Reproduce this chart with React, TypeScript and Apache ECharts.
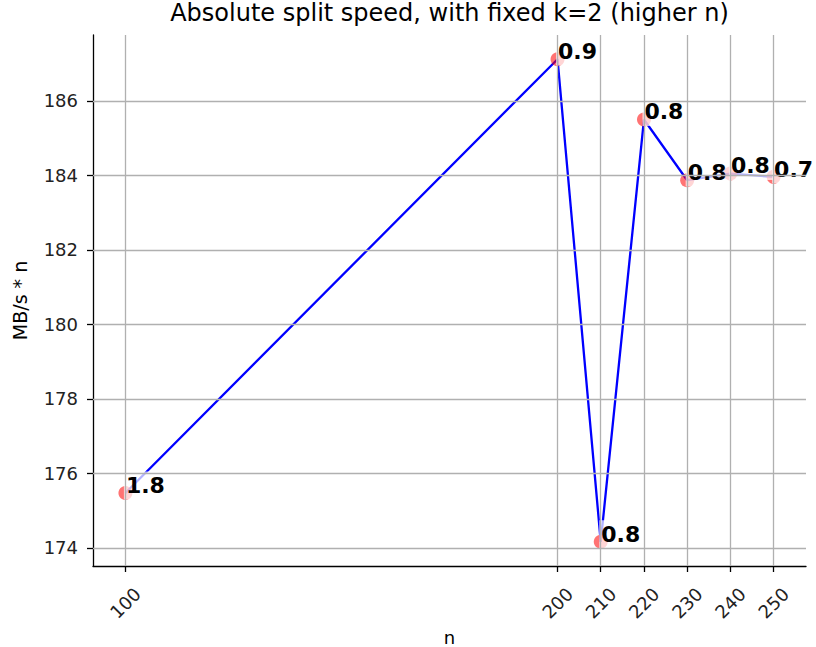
import React, { useEffect, useRef } from "react";
import * as echarts from "echarts";

const nValues = [100, 200, 210, 220, 230, 240, 250];
const speedValues = [175.47, 187.12, 174.16, 185.5, 183.87, 184.05, 183.96];
const pointLabels = ["1.8", "0.9", "0.8", "0.8", "0.8", "0.8", "0.7"];
const yTickValues = [174, 176, 178, 180, 182, 184, 186];

const FONT = "DejaVu Sans";

export default function App() {
  const ref = useRef<HTMLDivElement>(null);
  useEffect(() => {
    if (!ref.current) return;
    const chart = echarts.init(ref.current, null, { renderer: "svg" });
    const gridLeft = 93;
    const gridRight = 10;
    const axisCenter = gridLeft + (816 - gridLeft - gridRight) / 2;
    chart.setOption({
      animation: false,
      backgroundColor: "#ffffff",
      textStyle: { fontFamily: FONT },
      graphic: [
        {
          type: "text",
          x: axisCenter,
          y: 1,
          style: {
            text: "Absolute split speed, with fixed k=2 (higher n)",
            fontFamily: FONT,
            fontSize: 24,
            fill: "#000",
            textAlign: "center",
            textVerticalAlign: "top",
          },
        },
      ],
      grid: {
        left: gridLeft,
        right: gridRight,
        top: 35,
        bottom: 81,
        containLabel: false,
        outerBoundsMode: "none",
      },
      xAxis: {
        type: "value",
        min: 92.5,
        max: 257.5,
        name: "n",
        nameLocation: "middle",
        nameGap: 61,
        nameTextStyle: { fontFamily: FONT, fontSize: 18, color: "#000", lineHeight: 14 },
        axisLine: { show: true, onZero: false, lineStyle: { color: "#000", width: 1.3 } },
        axisTick: { show: true, customValues: nValues, length: 6, lineStyle: { color: "#000", width: 1.3 } },
        axisLabel: {
          customValues: nValues,
          rotate: 45,
          align: "center",
          verticalAlign: "middle",
          margin: 37,
          fontFamily: FONT,
          fontSize: 18,
          color: "#222",
        },
        splitLine: { show: false },
      },
      yAxis: {
        type: "value",
        min: 173.51,
        max: 187.77,
        name: "MB/s * n",
        nameLocation: "middle",
        nameGap: 64,
        nameTextStyle: { fontFamily: FONT, fontSize: 19, color: "#000" },
        axisLine: { show: true, onZero: false, lineStyle: { color: "#000", width: 1.3 } },
        axisTick: { show: true, customValues: yTickValues, length: 6, lineStyle: { color: "#000", width: 1.3 } },
        axisLabel: {
          customValues: yTickValues,
          margin: 15,
          fontFamily: FONT,
          fontSize: 18,
          color: "#222",
        },
        splitLine: { show: false },
      },
      series: [
        {
          type: "line",
          data: [],
          z: 1,
          silent: true,
          markLine: {
            silent: true,
            symbol: "none",
            label: { show: false },
            lineStyle: { color: "#b0b0b0", width: 1.3, type: "solid" },
            data: [
              ...nValues.map((v) => ({ xAxis: v })),
              ...yTickValues.map((v) => ({ yAxis: v })),
            ],
          },
        },
        {
          type: "line",
          z: 2,
          data: nValues.map((n, i) => [n, speedValues[i]]),
          showSymbol: false,
          symbol: "none",
          lineStyle: { color: "#0000ff", width: 2.3 },
        },
        {
          type: "scatter",
          z: 3,
          data: nValues.map((n, i) => [n, speedValues[i], pointLabels[i]]),
          symbolSize: 14,
          itemStyle: { color: "rgba(255,0,0,0.55)", opacity: 1 },
          label: {
            show: true,
            formatter: (p: any) => p.value[2],
            position: [5.5, -0.6],
            align: "left",
            verticalAlign: "middle",
            fontFamily: FONT,
            fontSize: 22,
            fontWeight: "bold",
            color: "#000",
            opacity: 1,
            lineHeight: 22,
            backgroundColor: "rgba(255,255,255,0.7)",
            padding: [3, 4, 3, 2],
          },
        },
      ],
    });
    return () => chart.dispose();
  }, []);
  return (
    <div
      ref={ref}
      style={{ position: "fixed", left: 0, top: 0, width: 816, height: 647 }}
    />
  );
}
